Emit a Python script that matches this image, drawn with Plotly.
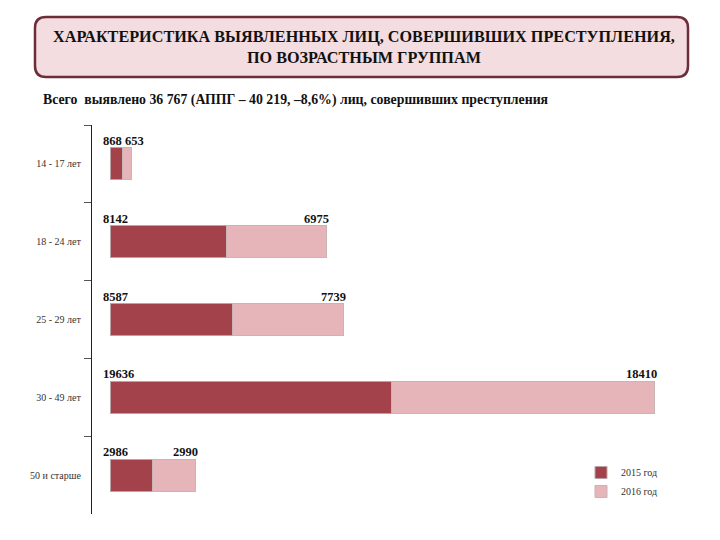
import plotly.graph_objects as go

categories = ["14 - 17 лет", "18 - 24 лет", "25 - 29 лет", "30 - 49 лет", "50 и старше"]
values_2015 = [868, 8142, 8587, 19636, 2986]
values_2016 = [653, 6975, 7739, 18410, 2990]
series_names = ["2015 год", "2016 год"]
title_text = "ХАРАКТЕРИСТИКА ВЫЯВЛЕННЫХ ЛИЦ, СОВЕРШИВШИХ ПРЕСТУПЛЕНИЯ,<br>ПО ВОЗРАСТНЫМ ГРУППАМ"
subtitle_text = "Всего  выявлено 36 767 (АППГ – 40 219, –8,6%) лиц, совершивших преступления"

OFF = 8  # browser body margin
W, H = 720 - OFF, 540 - OFF
# plot area in reference page pixels
PL, PR, PT, PB = 92, 680, 125, 514
ML, MR, MT, MB = PL - OFF, W - (PR - OFF), PT - OFF, H - (PB - OFF)
PW, PH = PR - PL, PB - PT

def px(x):
    return (x - PL) / PW

def py(y):
    return (PB - y) / PH

C15 = "#a3424a"
C16 = "#e6b5b9"
SERIF = "Liberation Serif, Times New Roman, serif"

fig = go.Figure()
fig.add_trace(go.Bar(y=categories, x=values_2015, orientation="h", name=series_names[0],
                     marker=dict(color=C15, line=dict(color="#b9a3a5", width=1))))
fig.add_trace(go.Bar(y=categories, x=values_2016, orientation="h", name=series_names[1],
                     marker=dict(color=C16, line=dict(color="#c9b3b5", width=1))))

annotations = []
for c, a, b in zip(categories, values_2015, values_2016):
    annotations.append(dict(x=0, y=c, xref="x", yref="y", text=f"<b>{a}</b>", showarrow=False,
                            xanchor="left", yanchor="middle", xshift=-9, yshift=23,
                            font=dict(family=SERIF, size=12.5, color="#111")))
    if b < 2000:
        annotations.append(dict(x=a, y=c, xref="x", yref="y", text=f"<b>{b}</b>", showarrow=False,
                                xanchor="left", yanchor="middle", xshift=1, yshift=23,
                                font=dict(family=SERIF, size=12.5, color="#111")))
    else:
        annotations.append(dict(x=a + b, y=c, xref="x", yref="y", text=f"<b>{b}</b>", showarrow=False,
                                xanchor="right", yanchor="middle", xshift=4, yshift=23,
                                font=dict(family=SERIF, size=12.5, color="#111")))

# title box
x0, x1, y0, y1, r = 35, 688, 17, 77, 11
path = (f"M {px(x0+r)} {py(y0)} L {px(x1-r)} {py(y0)} Q {px(x1)} {py(y0)} {px(x1)} {py(y0+r)} "
        f"L {px(x1)} {py(y1-r)} Q {px(x1)} {py(y1)} {px(x1-r)} {py(y1)} "
        f"L {px(x0+r)} {py(y1)} Q {px(x0)} {py(y1)} {px(x0)} {py(y1-r)} "
        f"L {px(x0)} {py(y0+r)} Q {px(x0)} {py(y0)} {px(x0+r)} {py(y0)} Z")
shapes = [dict(type="path", path=path, xref="paper", yref="paper",
               fillcolor="#f3dde0", line=dict(color="#6e2c38", width=2.5), layer="above")]

annotations.append(dict(x=px(364), y=py(47), xref="paper", yref="paper", text=f"<b>{title_text}</b>",
                        showarrow=False, xanchor="center", yanchor="middle", align="center",
                        font=dict(family=SERIF, size=16.2, color="#111")))
annotations.append(dict(x=px(41), y=py(100), xref="paper", yref="paper", text=f"<b>{subtitle_text}</b>",
                        showarrow=False, xanchor="left", yanchor="middle",
                        font=dict(family=SERIF, size=13.8, color="#111")))

fig.update_layout(
    width=W, height=H, barmode="stack", bargap=0.59,
    margin=dict(l=ML, r=MR, t=MT, b=MB),
    paper_bgcolor="white", plot_bgcolor="white",
    xaxis=dict(range=[-1257, 39800], visible=False, showgrid=False, zeroline=False, fixedrange=True),
    yaxis=dict(categoryorder="array", categoryarray=categories, autorange="reversed",
               showline=True, linecolor="#222", linewidth=1.2, ticks="outside", ticklen=7,
               tickcolor="#555", tickson="boundaries", showgrid=False,
               tickfont=dict(family=SERIF, size=10, color="#333"), ticklabelstandoff=8),
    legend=dict(x=px(581), y=py(458), xanchor="left", yanchor="top", bgcolor="rgba(0,0,0,0)",
                traceorder="normal", font=dict(family=SERIF, size=10, color="#333"),
                itemwidth=30, tracegroupgap=0),
    showlegend=True,
    shapes=shapes, annotations=annotations,
)

fig.write_html("out.html")
